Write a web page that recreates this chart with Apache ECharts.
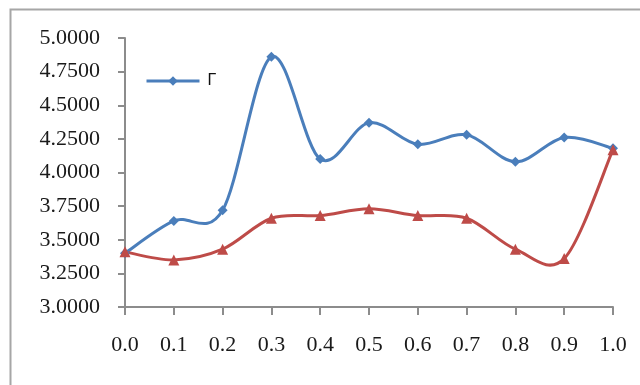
<!DOCTYPE html>
<html>
<head>
<meta charset="utf-8">
<script src="https://cdn.jsdelivr.net/npm/echarts@6/dist/echarts.min.js"></script>
<style>
html,body{margin:0;padding:0;background:#fff;}
#chart{width:640px;height:385px;}
</style>
</head>
<body>
<div id="chart"></div>
<script>
const categories = ['0.0','0.1','0.2','0.3','0.4','0.5','0.6','0.7','0.8','0.9','1.0'];
const blueValues = [3.40, 3.64, 3.72, 4.86, 4.10, 4.37, 4.21, 4.28, 4.08, 4.26, 4.18];
const redValues  = [3.41, 3.35, 3.43, 3.66, 3.68, 3.73, 3.68, 3.66, 3.43, 3.36, 4.17];
const yMin = 3.0, yMax = 5.0, yStep = 0.25;
const blueName = 'Γ';
const redName = 'series2';
const blueColor = '#4a7ebb';
const redColor = '#be4b48';

// Excel-style smoothed segment (Catmull-Rom -> cubic Bezier, tension 1/6)
function smoothSegment(values, color) {
  return function (params, api) {
    const i = api.value(0);
    const n = values.length;
    if (i >= n - 1) return null;
    const p = k => api.coord([Math.max(0, Math.min(n - 1, k)), values[Math.max(0, Math.min(n - 1, k))]]);
    const p0 = p(i - 1), p1 = p(i), p2 = p(i + 1), p3 = p(i + 2);
    return {
      type: 'bezierCurve',
      shape: {
        x1: p1[0], y1: p1[1], x2: p2[0], y2: p2[1],
        cpx1: p1[0] + (p2[0] - p0[0]) / 6, cpy1: p1[1] + (p2[1] - p0[1]) / 6,
        cpx2: p2[0] - (p3[0] - p1[0]) / 6, cpy2: p2[1] - (p3[1] - p1[1]) / 6
      },
      style: { stroke: color, lineWidth: 3, fill: 'none', lineCap: 'round' },
      silent: true
    };
  };
}

const chart = echarts.init(document.getElementById('chart'), null, {renderer:'canvas'});
const axisColor = '#8c8c8c';
const labelFont = {fontFamily:'Liberation Serif', fontSize:22, color:'#1a1a1a'};
chart.setOption({
  animation:false,
  backgroundColor:'#fff',
  graphic:[{type:'rect', shape:{x:10.5,y:9.5,width:700,height:500}, style:{fill:'none', stroke:'#a6a6a6', lineWidth:2}, silent:true}],
  grid:{left:125, right:27, top:38, bottom:78},
  legend:{data:[{name:blueName, lineStyle:{opacity:1, color:blueColor, width:3}}], left:140, top:68, itemWidth:53, itemHeight:12, itemGap:10,
    textStyle:{fontFamily:'Liberation Sans', fontSize:16, color:'#111', padding:[5,0,0,3]}},
  xAxis:{type:'category', data:categories, boundaryGap:false,
    axisLine:{lineStyle:{color:axisColor, width:2}},
    axisTick:{alignWithLabel:true, length:8, lineStyle:{color:axisColor, width:2}},
    axisLabel:{...labelFont, margin:27, interval:0},
    splitLine:{show:false}},
  yAxis:{type:'value', min:yMin, max:yMax, interval:yStep,
    axisLine:{show:true, lineStyle:{color:axisColor, width:2}},
    axisTick:{show:true, length:7, lineStyle:{color:axisColor, width:2}},
    axisLabel:{...labelFont, margin:25, formatter:v=>v.toFixed(4)},
    splitLine:{show:false}},
  series:[
    {name:'blueCurve', type:'custom', coordinateSystem:'cartesian2d',
      data:blueValues.map((v,i)=>[i,v]), encode:{x:0,y:1}, renderItem:smoothSegment(blueValues, blueColor), clip:false},
    {name:blueName, type:'line', data:blueValues, symbol:'diamond', symbolSize:10,
      lineStyle:{color:blueColor, width:3, opacity:0}, itemStyle:{color:blueColor}},
    {name:'redCurve', type:'custom', coordinateSystem:'cartesian2d',
      data:redValues.map((v,i)=>[i,v]), encode:{x:0,y:1}, renderItem:smoothSegment(redValues, redColor), clip:false},
    {name:redName, type:'line', data:redValues, symbol:'triangle', symbolSize:11,
      lineStyle:{color:redColor, width:3, opacity:0}, itemStyle:{color:redColor}}
  ]
});
</script>
</body>
</html>
